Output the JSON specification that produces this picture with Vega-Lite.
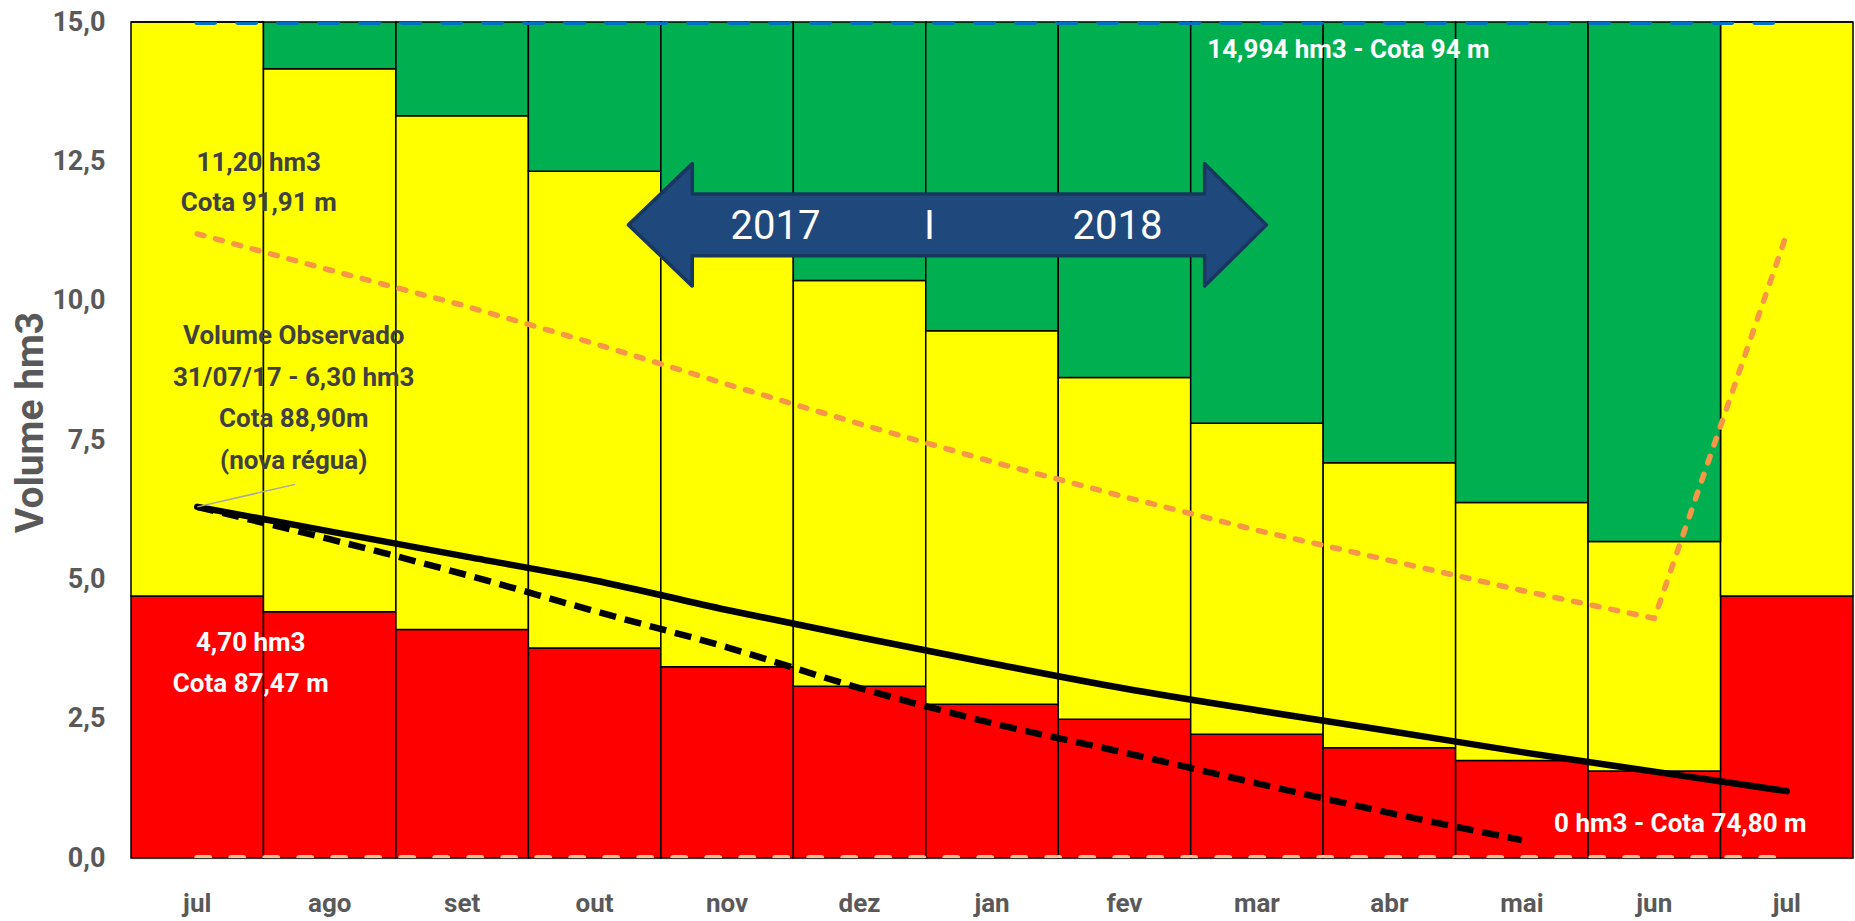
{
  "$schema": "https://vega.github.io/schema/vega-lite/v6.json",
  "width": 1722,
  "height": 836,
  "autosize": {"type": "none"},
  "padding": {"left": 131, "top": 22, "right": 2, "bottom": 63},
  "background": "white",
  "config": {"view": {"stroke": null}, "font": "Roboto"},
  "data": {
    "values": [
      {"mes": "jul 2017", "vermelho": 4.70, "amarelo": 15.0, "capacidade": 15.0, "minimo": 0, "observado": 6.30, "tracejada": 6.30, "laranja": 11.20},
      {"mes": "ago", "vermelho": 4.42, "amarelo": 14.16, "capacidade": 15.0, "minimo": 0, "observado": 5.86, "tracejada": 5.72, "laranja": 10.55},
      {"mes": "set", "vermelho": 4.10, "amarelo": 13.32, "capacidade": 15.0, "minimo": 0, "observado": 5.42, "tracejada": 5.10, "laranja": 9.92},
      {"mes": "out", "vermelho": 3.77, "amarelo": 12.32, "capacidade": 15.0, "minimo": 0, "observado": 4.98, "tracejada": 4.43, "laranja": 9.23},
      {"mes": "nov", "vermelho": 3.43, "amarelo": 11.35, "capacidade": 15.0, "minimo": 0, "observado": 4.45, "tracejada": 3.78, "laranja": 8.50},
      {"mes": "dez", "vermelho": 3.08, "amarelo": 10.36, "capacidade": 15.0, "minimo": 0, "observado": 3.96, "tracejada": 3.05, "laranja": 7.79},
      {"mes": "jan", "vermelho": 2.76, "amarelo": 9.46, "capacidade": 15.0, "minimo": 0, "observado": 3.49, "tracejada": 2.42, "laranja": 7.11},
      {"mes": "fev", "vermelho": 2.49, "amarelo": 8.62, "capacidade": 15.0, "minimo": 0, "observado": 3.04, "tracejada": 1.89, "laranja": 6.48},
      {"mes": "mar", "vermelho": 2.22, "amarelo": 7.80, "capacidade": 15.0, "minimo": 0, "observado": 2.65, "tracejada": 1.34, "laranja": 5.88},
      {"mes": "abr", "vermelho": 1.98, "amarelo": 7.09, "capacidade": 15.0, "minimo": 0, "observado": 2.28, "tracejada": 0.81, "laranja": 5.34},
      {"mes": "mai", "vermelho": 1.75, "amarelo": 6.38, "capacidade": 15.0, "minimo": 0, "observado": 1.90, "tracejada": 0.32, "laranja": 4.80},
      {"mes": "jun", "vermelho": 1.56, "amarelo": 5.68, "capacidade": 15.0, "minimo": 0, "observado": 1.55, "tracejada": null, "laranja": 4.30},
      {"mes": "jul 2018", "vermelho": 4.70, "amarelo": 15.0, "capacidade": 15.0, "minimo": 0, "observado": 1.20, "tracejada": null, "laranja": 11.20}
    ]
  },
  "layer": [
    {
      "mark": {"type": "bar", "color": "#FF0000", "stroke": "#000000", "strokeWidth": 1.5},
      "encoding": {
        "x": {
          "field": "mes", "type": "nominal",
          "scale": {"domain": ["jul 2017", "ago", "set", "out", "nov", "dez", "jan", "fev", "mar", "abr", "mai", "jun", "jul 2018"], "paddingInner": 0, "paddingOuter": 0},
          "axis": {
            "title": null, "labelAngle": 0, "ticks": false,
            "labelExpr": "split(datum.label, ' ')[0]",
            "labelFont": "Roboto", "labelFontWeight": "bold", "labelFontSize": 26, "labelColor": "#595959",
            "labelPadding": 32, "domainColor": "#D9D9D9", "domainWidth": 2
          }
        },
        "y": {
          "field": "vermelho", "type": "quantitative",
          "scale": {"domain": [0, 15], "nice": false, "zero": true},
          "axis": {
            "title": "Volume hm3", "titleFont": "Roboto", "titleFontWeight": "bold", "titleFontSize": 39, "titleColor": "#595959",
            "titleX": -101, "titleY": 400, "titleAlign": "center", "titleBaseline": "middle", "titleAngle": -90,
            "values": [0, 2.5, 5, 7.5, 10, 12.5, 15],
            "labelExpr": "replace(format(datum.value, '.1f'), '.', ',')",
            "labelFont": "Roboto", "labelFontWeight": "bold", "labelFontSize": 27, "labelColor": "#595959",
            "labelPadding": 26, "ticks": false, "domain": false, "grid": false
          }
        }
      }
    },
    {
      "mark": {"type": "bar", "color": "#FFFF00", "stroke": "#000000", "strokeWidth": 1.5},
      "encoding": {
        "x": {"field": "mes", "type": "nominal"},
        "y": {"field": "amarelo", "type": "quantitative", "title": "Volume hm3"},
        "y2": {"field": "vermelho"}
      }
    },
    {
      "mark": {"type": "bar", "color": "#00B050", "stroke": "#000000", "strokeWidth": 1.5},
      "encoding": {
        "x": {"field": "mes", "type": "nominal"},
        "y": {"field": "capacidade", "type": "quantitative", "title": "Volume hm3"},
        "y2": {"field": "amarelo"}
      }
    },
    {
      "mark": {"type": "line", "color": "#0070C0", "strokeWidth": 6, "strokeDash": [17, 24], "strokeCap": "round", "clip": true},
      "encoding": {
        "x": {"field": "mes", "type": "nominal"},
        "y": {"field": "capacidade", "type": "quantitative", "title": "Volume hm3"}
      }
    },
    {
      "mark": {"type": "line", "color": "#FAC090", "strokeWidth": 6, "strokeDash": [12, 22], "strokeCap": "round", "clip": true},
      "encoding": {
        "x": {"field": "mes", "type": "nominal"},
        "y": {"field": "minimo", "type": "quantitative", "title": "Volume hm3"}
      }
    },
    {
      "mark": {"type": "line", "color": "#F79646", "strokeWidth": 5.5, "strokeDash": [7, 12], "strokeCap": "round"},
      "encoding": {
        "x": {"field": "mes", "type": "nominal"},
        "y": {"field": "laranja", "type": "quantitative", "title": "Volume hm3"}
      }
    },
    {
      "mark": {"type": "line", "color": "#000000", "strokeWidth": 6.5, "strokeDash": [17, 9], "interpolate": "monotone"},
      "encoding": {
        "x": {"field": "mes", "type": "nominal"},
        "y": {"field": "tracejada", "type": "quantitative", "title": "Volume hm3"}
      }
    },
    {
      "mark": {"type": "line", "color": "#000000", "strokeWidth": 6.5, "interpolate": "monotone", "strokeCap": "round"},
      "encoding": {
        "x": {"field": "mes", "type": "nominal"},
        "y": {"field": "observado", "type": "quantitative", "title": "Volume hm3"}
      }
    },
    {
      "data": {"values": [{"mes": "jul 2017", "v": 6.30}]},
      "mark": {"type": "point", "filled": false, "opacity": 1, "shape": "M0,0 L0.98,-0.225", "size": 40000, "stroke": "#A6A6A6", "strokeWidth": 1.5},
      "encoding": {
        "x": {"field": "mes", "type": "nominal"},
        "y": {"field": "v", "type": "quantitative", "title": "Volume hm3"}
      }
    },
    {
      "data": {"values": [{"mes": "jan", "v": 11.36}]},
      "mark": {
        "type": "point", "filled": true, "opacity": 1,
        "shape": "M-1,0 L-0.8,-0.192 L-0.8,-0.097 L0.806,-0.097 L0.806,-0.192 L1,0 L0.806,0.192 L0.806,0.097 L-0.8,0.097 L-0.8,0.192 Z",
        "size": 407044, "fill": "#1F497D", "stroke": "#17375E", "strokeWidth": 3.5, "strokeJoin": "round"
      },
      "encoding": {
        "x": {"field": "mes", "type": "nominal", "bandPosition": 0.164},
        "y": {"field": "v", "type": "quantitative", "title": "Volume hm3"}
      }
    },
    {
      "data": {"values": [{"mes": "jan", "v": 11.36, "t": "2017"}]},
      "mark": {"type": "text", "font": "Roboto", "fontSize": 40, "color": "#FFFFFF", "align": "center", "baseline": "middle", "dx": -216.5, "dy": 2},
      "encoding": {
        "x": {"field": "mes", "type": "nominal"},
        "y": {"field": "v", "type": "quantitative", "title": "Volume hm3"},
        "text": {"field": "t"}
      }
    },
    {
      "data": {"values": [{"mes": "jan", "v": 11.36, "t": "I"}]},
      "mark": {"type": "text", "font": "Roboto", "fontSize": 40, "color": "#FFFFFF", "align": "center", "baseline": "middle", "dx": -62.5, "dy": 2},
      "encoding": {
        "x": {"field": "mes", "type": "nominal"},
        "y": {"field": "v", "type": "quantitative", "title": "Volume hm3"},
        "text": {"field": "t"}
      }
    },
    {
      "data": {"values": [{"mes": "jan", "v": 11.36, "t": "2018"}]},
      "mark": {"type": "text", "font": "Roboto", "fontSize": 40, "color": "#FFFFFF", "align": "center", "baseline": "middle", "dx": 125.5, "dy": 2},
      "encoding": {
        "x": {"field": "mes", "type": "nominal"},
        "y": {"field": "v", "type": "quantitative", "title": "Volume hm3"},
        "text": {"field": "t"}
      }
    },
    {
      "data": {"values": [{"mes": "jul 2017", "v": 11.20, "t": "11,20 hm3\nCota 91,91 m"}]},
      "mark": {"type": "text", "font": "Roboto", "fontWeight": "bold", "fontSize": 26, "color": "#404040", "align": "center", "baseline": "middle", "lineBreak": "\n", "lineHeight": 40, "dx": 61.5, "dy": -71},
      "encoding": {
        "x": {"field": "mes", "type": "nominal"},
        "y": {"field": "v", "type": "quantitative", "title": "Volume hm3"},
        "text": {"field": "t"}
      }
    },
    {
      "data": {"values": [{"mes": "jul 2017", "v": 6.30, "t": "Volume Observado\n31/07/17 - 6,30 hm3\nCota 88,90m\n(nova régua)"}]},
      "mark": {"type": "text", "font": "Roboto", "fontWeight": "bold", "fontSize": 26, "color": "#404040", "align": "center", "baseline": "middle", "lineBreak": "\n", "lineHeight": 41.7, "dx": 96.5, "dy": -171},
      "encoding": {
        "x": {"field": "mes", "type": "nominal"},
        "y": {"field": "v", "type": "quantitative", "title": "Volume hm3"},
        "text": {"field": "t"}
      }
    },
    {
      "data": {"values": [{"mes": "jul 2017", "v": 4.70, "t": "4,70 hm3\nCota 87,47 m"}]},
      "mark": {"type": "text", "font": "Roboto", "fontWeight": "bold", "fontSize": 26, "color": "#FFFFFF", "align": "center", "baseline": "middle", "lineBreak": "\n", "lineHeight": 41, "dx": 53.5, "dy": 47},
      "encoding": {
        "x": {"field": "mes", "type": "nominal"},
        "y": {"field": "v", "type": "quantitative", "title": "Volume hm3"},
        "text": {"field": "t"}
      }
    },
    {
      "data": {"values": [{"mes": "mar", "v": 15, "t": "14,994 hm3 - Cota 94 m"}]},
      "mark": {"type": "text", "font": "Roboto", "fontWeight": "bold", "fontSize": 26, "color": "#FFFFFF", "align": "center", "baseline": "middle", "dx": 91.5, "dy": 28},
      "encoding": {
        "x": {"field": "mes", "type": "nominal"},
        "y": {"field": "v", "type": "quantitative", "title": "Volume hm3"},
        "text": {"field": "t"}
      }
    },
    {
      "data": {"values": [{"mes": "jun", "v": 0, "t": "0 hm3 - Cota 74,80 m"}]},
      "mark": {"type": "text", "font": "Roboto", "fontWeight": "bold", "fontSize": 26, "color": "#FFFFFF", "align": "center", "baseline": "middle", "dx": 26, "dy": -34},
      "encoding": {
        "x": {"field": "mes", "type": "nominal"},
        "y": {"field": "v", "type": "quantitative", "title": "Volume hm3"},
        "text": {"field": "t"}
      }
    }
  ]
}
